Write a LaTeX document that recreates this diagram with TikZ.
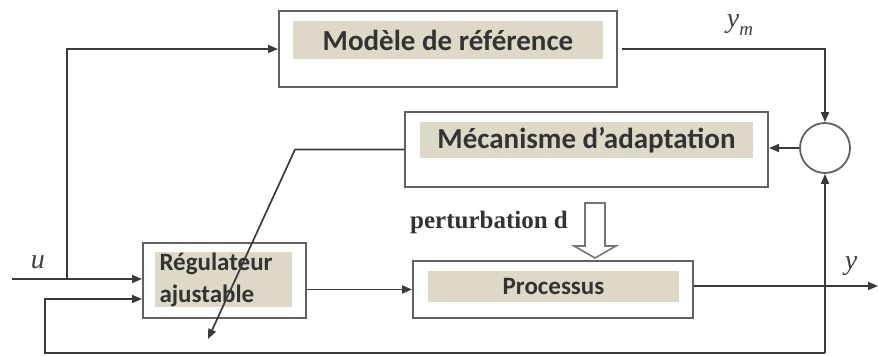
\documentclass[tikz,border=0pt]{standalone}
\usepackage{fontspec}
\setmainfont{Liberation Serif}
\newfontfamily\boxfont{Carlito}
\usetikzlibrary{positioning,arrows.meta}
\definecolor{BoxTan}{HTML}{DDD9C6}
\definecolor{LineGray}{HTML}{3A3A3A}

\tikzset{
  outerbox/.style={draw=LineGray!80, line width=1pt, fill=white, inner sep=0pt},
  innerbox/.style={fill=BoxTan, inner sep=0pt, font=\boxfont\bfseries\fontsize{14.5}{17}\selectfont, text=black!80},
  smallbox/.style={innerbox, font=\boxfont\bfseries\fontsize{12.5}{16}\selectfont},
  sumnode/.style={circle, draw=LineGray!80, line width=0.9pt, minimum size=25pt, inner sep=0pt},
  arr/.style={draw=LineGray, line width=0.85pt, -{Triangle[length=5pt,width=4pt]}},
  lbl/.style={font=\itshape\fontsize{14}{16}\selectfont, text=black!75}
}

\begin{document}
\begin{tikzpicture}[x=0.5pt,y=-0.5pt]
  \useasboundingbox (0,0) rectangle (878,356);

  % blocs
  \node[outerbox, minimum width=169pt, minimum height=38pt] (modele) at (448,49) {};
  \node[innerbox, minimum width=155pt, minimum height=19pt] (modeletxt) at (448,40) {Modèle de référence};

  \node[outerbox, minimum width=181.5pt, minimum height=37.5pt] (meca) at (586.5,149.5) {};
  \node[innerbox, minimum width=166.5pt, minimum height=18pt] (mecatxt) at (586.5,140) {Mécanisme d’adaptation};

  \node[outerbox, minimum width=81.5pt, minimum height=37.5pt] (regul) at (224.5,280.5) {};
  \node[smallbox, minimum width=68.5pt, minimum height=27.5pt, align=left, text width=64pt] (regultxt) at (223.5,279.5) {Régulateur\\ajustable};

  \node[outerbox, minimum width=140pt, minimum height=28.5pt] (proc) at (553,289.5) {};
  \node[smallbox, minimum width=125.5pt, minimum height=15.5pt] (proctxt) at (553.5,286.5) {Processus};

  \node[sumnode] (cmp) at (825,148) {};

  % points de passage
  \coordinate (uin) at (12,279);
  \coordinate (branch) at (67,279);
  \coordinate (out) at (878,286);
  \coordinate (fbk) at (825,353);
  \coordinate (fbl) at (45,353);
  \coordinate (adj) at (208,339);
  \coordinate (pert) at (595,203);

  % liaisons
  \draw[arr] (uin) -- (uin -| regul.west);
  \draw[arr] (branch) |- (modele.west);
  \draw[arr] ([xshift=2pt]modele.east) -| (cmp.north);
  \draw[arr] (cmp.west) -- (cmp.west -| meca.east);
  \draw[arr] (meca.west) -- ++(-109,0) -- (adj);
  \draw[arr] (regul.east |- proc.west) -- (proc.west);
  \draw[arr] (proc.east |- out) -- (out);
  \draw[arr] (fbk) -- (cmp.south);
  \draw[arr] (fbk) -- (fbl) |- (regul.west |- 0,299);

  % perturbation
  \draw[draw=LineGray!70, line width=0.8pt, fill=white]
    (pert) ++(-10,0) -- ++(20,0) -- ++(0,43) -- ++(11,0) -- (595,258)
    -- (574,246) -- ++(11,0) -- cycle;
  \node[font=\bfseries\fontsize{12.5}{14}\selectfont, text=black!80] (pertlbl) at (489,222) {perturbation d};

  % signaux
  \node[lbl] (ulbl) at (38,262) {u};
  \node[lbl] (ymlbl) at (740,25) {y\raisebox{-0.6ex}{\fontsize{9.5}{10}\selectfont m}};
  \node[lbl] (ylbl) at (851,266) {y};
\end{tikzpicture}
\end{document}
